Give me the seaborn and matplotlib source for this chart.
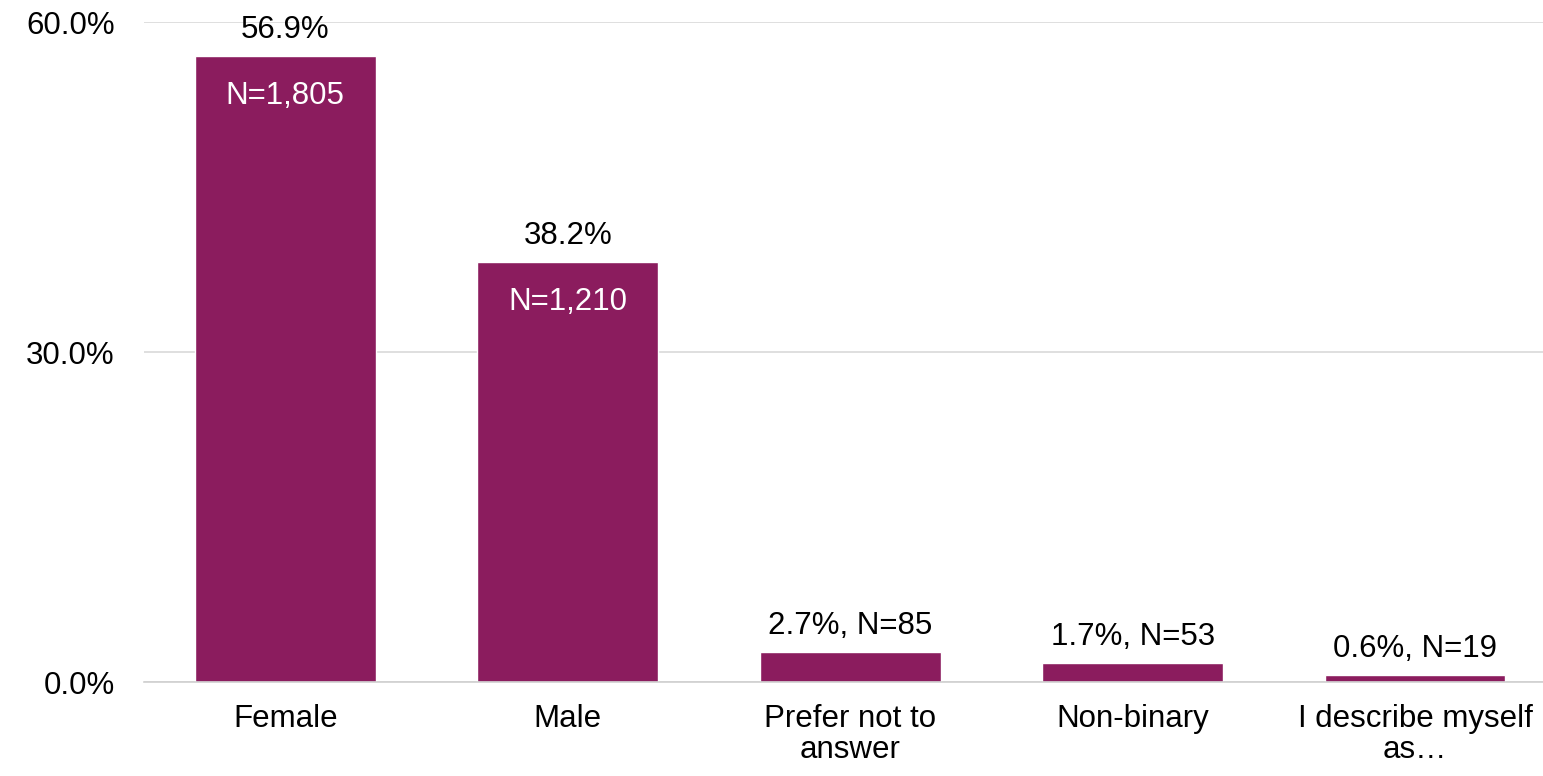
import numpy as np
import pandas as pd
import matplotlib
matplotlib.use("Agg")
import matplotlib.pyplot as plt
import seaborn as sns

# Chart data
categories = ["Female", "Male", "Prefer not to\nanswer", "Non-binary", "I describe myself\nas…"]
percent = [56.9, 38.2, 2.7, 1.7, 0.6]
counts = [1805, 1210, 85, 53, 19]
y_ticks = [0.0, 30.0, 60.0]

BAR_COLOR = "#8B1C5E"
FS = 22.5

sns.set_style("white")
plt.rcParams['font.family'] = ['Liberation Sans', 'DejaVu Sans']
plt.rcParams['text.color'] = 'black'

df = pd.DataFrame({"category": categories, "percent": percent, "count": counts})

fig = plt.figure(figsize=(15.43, 7.76), dpi=100)
ax = fig.add_axes([144 / 1543, (776 - 682) / 776, (1543 - 144) / 1543, (682 - 22) / 776])

sns.barplot(data=df, x="category", y="percent", color=BAR_COLOR, saturation=1,
            width=0.64, ax=ax)

ax.set_ylim(0, 60)
ax.set_xlim(-0.5, 4.453)
ax.set_yticks(y_ticks)
ax.set_yticklabels([f"{t:.1f}%" for t in y_ticks])
ax.yaxis.grid(True, color="#d9d9d9", linewidth=1.2)
ax.set_axisbelow(True)
ax.set_xlabel("")
ax.set_ylabel("")
for side in ["top", "right", "left"]:
    ax.spines[side].set_visible(False)
ax.spines["bottom"].set_color("#d0d0d0")
ax.spines["bottom"].set_linewidth(1.2)
ax.tick_params(axis="both", length=0, labelsize=FS, colors="black")
ax.tick_params(axis="y", pad=21)
ax.tick_params(axis="x", pad=16)
for lbl in ax.get_xticklabels():
    lbl.set_linespacing(1.05)

# Value labels
for i, (p, n) in enumerate(zip(percent, counts)):
    if p > 10:
        ax.text(i, p + 1.0, f"{p:.1f}%", ha="center", va="bottom", fontsize=FS, color="black")
        ax.text(i, p - 2.3, f"N={n:,}", ha="center", va="top", fontsize=FS, color="white")
    else:
        ax.text(i, p + 1.0, f"{p:.1f}%, N={n:,}", ha="center", va="bottom", fontsize=FS, color="black")

fig.savefig("out.png", dpi=100)
